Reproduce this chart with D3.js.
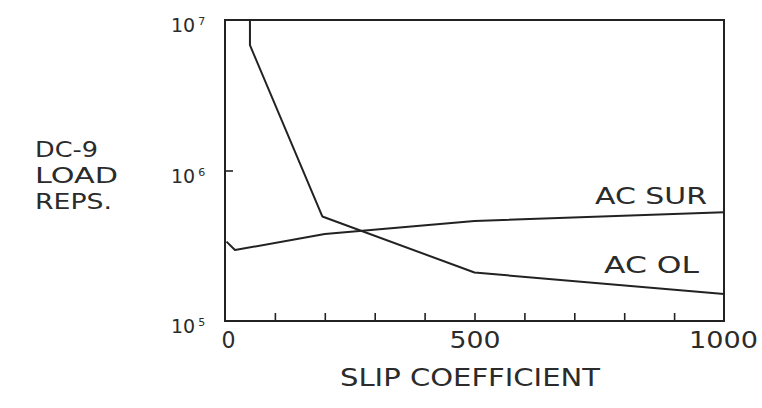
<!DOCTYPE html>
<html>
<head>
<meta charset="utf-8">
<script src="https://cdn.jsdelivr.net/npm/d3@7"></script>
<style>
  html, body { margin: 0; padding: 0; background: #fff; }
  svg { display: block; }
  text { font-family: "DejaVu Sans", sans-serif; fill: #2b2b2b; }
</style>
</head>
<body>
<svg id="chart" width="762" height="408"></svg>
<script>
// Slip coefficient (x) against DC-9 load repetitions (log y)
const acSurSlip = [3, 20, 200, 500, 1000];
const acSurReps = [3.37e5, 2.96e5, 3.79e5, 4.62e5, 5.28e5];

const acOlSlip = [50, 50, 195, 500, 1000];
const acOlReps = [1e7, 6.8e6, 4.95e5, 2.1e5, 1.51e5];

const xMinorTicks = [100, 200, 300, 400, 500, 600, 700, 800, 900];
const xLabelTicks = [0, 500, 1000];
const yInnerTicks = [1e6];
const yLabelExponents = [5, 6, 7];

const seriesLabels = ["AC SUR", "AC OL"];
const yTitleLines = ["DC-9", "LOAD", "REPS."];
const xTitle = "SLIP COEFFICIENT";

const svg = d3.select("#chart");
const ink = "#222";
const font = "'DejaVu Sans', sans-serif";

const x = d3.scaleLinear().domain([0, 1000]).range([225, 724]);
const y = d3.scaleLog().domain([1e5, 1e7]).range([321, 20]);

// stretch a text element to a given width (wide lettering)
function fit(sel, width) {
  sel.attr("textLength", width).attr("lengthAdjust", "spacingAndGlyphs");
  return sel;
}

// plot frame
svg.append("rect")
  .attr("x", x(0)).attr("y", y(1e7))
  .attr("width", x(1000) - x(0)).attr("height", y(1e5) - y(1e7))
  .attr("fill", "none").attr("stroke", ink).attr("stroke-width", 2);

// inward minor ticks along the bottom
const xTickAxis = d3.axisBottom(x).tickValues(xMinorTicks).tickSize(-8).tickFormat("");
const gx = svg.append("g").attr("transform", `translate(0,${y(1e5)})`).call(xTickAxis);
gx.select(".domain").remove();
gx.selectAll(".tick line").attr("stroke", ink).attr("stroke-width", 1.6);

// bottom tick labels
const xLabelWidths = {0: 14, 500: 51, 1000: 69};
const xLabelAxis = d3.axisBottom(x).tickValues(xLabelTicks).tickSize(0).tickPadding(27)
  .tickFormat(d3.format("d"));
const gxl = svg.append("g").attr("transform", `translate(0,${y(1e5)})`).call(xLabelAxis);
gxl.select(".domain").remove();
gxl.selectAll(".tick text")
  .attr("font-family", font).attr("font-size", 23).attr("fill", "#2b2b2b")
  .attr("dy", 0)
  .attr("x", d => d === 0 ? 3 : (d === 1000 ? -1 : 0))
  .each(function (d) { fit(d3.select(this), xLabelWidths[d]); });

// inward tick on the left axis at 10^6
const yTickAxis = d3.axisLeft(y).tickValues(yInnerTicks).tickSize(-8).tickFormat("");
const gy = svg.append("g").attr("transform", `translate(${x(0)},0)`).call(yTickAxis);
gy.select(".domain").remove();
gy.selectAll(".tick line").attr("stroke", ink).attr("stroke-width", 1.6);

// powers of ten on the left
yLabelExponents.forEach(e => {
  const yy = y(Math.pow(10, e));
  const t = svg.append("text").attr("x", 171).attr("y", yy + 12).attr("font-size", 19);
  t.append("tspan").text("10");
  t.append("tspan").attr("dx", 3).attr("dy", -7).attr("font-size", 11).text(String(e));
});

// curves
const line = d3.line().x(d => x(d[0])).y(d => y(d[1]));
const surData = d3.zip(acSurSlip, acSurReps);
const olData = d3.zip(acOlSlip, acOlReps);
[surData, olData].forEach(data => {
  svg.append("path").datum(data).attr("d", line)
    .attr("fill", "none").attr("stroke", ink).attr("stroke-width", 2)
    .attr("stroke-linejoin", "round");
});

// series labels
fit(svg.append("text").attr("x", 595).attr("y", 204).attr("font-size", 23).text(seriesLabels[0]), 112);
fit(svg.append("text").attr("x", 604).attr("y", 273).attr("font-size", 23).text(seriesLabels[1]), 95);

// y title, three lines
const yTitleWidths = [63, 83, 77];
yTitleLines.forEach((s, i) => {
  fit(svg.append("text").attr("x", 35).attr("y", 157 + i * 26).attr("font-size", 22).text(s), yTitleWidths[i]);
});

// x title
fit(svg.append("text").attr("x", 340).attr("y", 386).attr("font-size", 24).text(xTitle), 260);
</script>
</body>
</html>
